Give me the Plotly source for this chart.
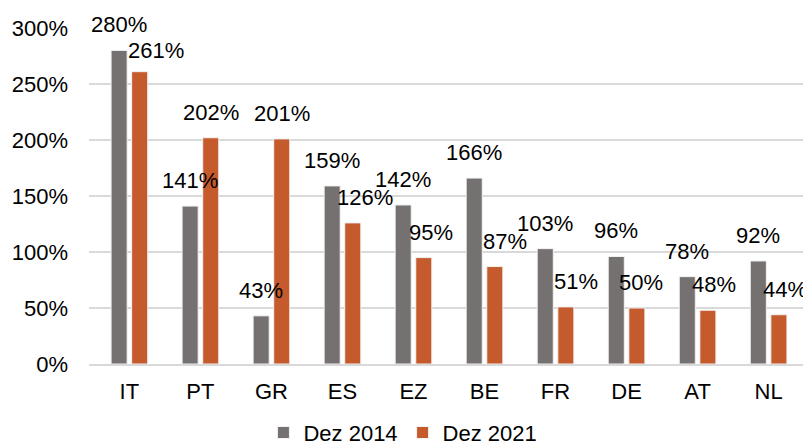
import plotly.graph_objects as go

laender = ['IT', 'PT', 'GR', 'ES', 'EZ', 'BE', 'FR', 'DE', 'AT', 'NL']
dez_2014 = [280, 141, 43, 159, 142, 166, 103, 96, 78, 92]
dez_2021 = [261, 202, 201, 126, 95, 87, 51, 50, 48, 44]

# Excel schiebt einige Beschriftungen der 2021-Balken etwas nach rechts
versatz_2021 = [16, 0, 0, 12, 7, 10, 10, 4, 6, 6]
hoehe_2021 = [-4, 0, 0, 0, 0, 0, 0, 0, 0, 0]

farben = {'2014': '#767171', '2021': '#C55A2D'}
schrift = dict(family='Liberation Sans, Arial, sans-serif', size=22, color='#000000')

fig = go.Figure()
fig.add_trace(go.Bar(x=laender, y=dez_2014, name='Dez 2014',
                     marker=dict(color=farben['2014'], line=dict(color='#f2f2f2', width=1))))
fig.add_trace(go.Bar(x=laender, y=dez_2021, name='Dez 2021',
                     marker=dict(color=farben['2021'], line=dict(color='#f2f2f2', width=1))))

# Datenbeschriftungen über den Balken
for i, land in enumerate(laender):
    fig.add_annotation(x=i, y=dez_2014[i], text=f'{dez_2014[i]}%', xshift=-10.4, yshift=11,
                       showarrow=False, yanchor='bottom', font=schrift)
    fig.add_annotation(x=i, y=dez_2021[i], text=f'{dez_2021[i]}%',
                       xshift=10.4 + versatz_2021[i], yshift=11 + hoehe_2021[i],
                       showarrow=False, yanchor='bottom', font=schrift)

# die Seite hat 8px Rand, daher etwas kleiner als das Fenster
fig.update_layout(
    width=803, height=435,
    margin=dict(l=81, r=2, t=20, b=79, autoexpand=False),
    plot_bgcolor='white', paper_bgcolor='white',
    barmode='group', bargap=0.42, bargroupgap=0.22,
    font=schrift,
    showlegend=True,
    legend=dict(orientation='h', x=0.436, xanchor='center', y=-0.142, yanchor='top',
                font=schrift, itemwidth=30, tracegroupgap=0),
)
fig.update_yaxes(range=[0, 300], dtick=50, ticksuffix='%', showgrid=True,
                 gridcolor='#d9d9d9', gridwidth=1.5, zeroline=False, ticks='',
                 tickfont=schrift, ticklabelstandoff=20)
fig.update_xaxes(showline=True, linecolor='#d9d9d9', linewidth=1.5, ticks='',
                 tickfont=schrift, ticklabelstandoff=7)

fig.write_html("out.html")
